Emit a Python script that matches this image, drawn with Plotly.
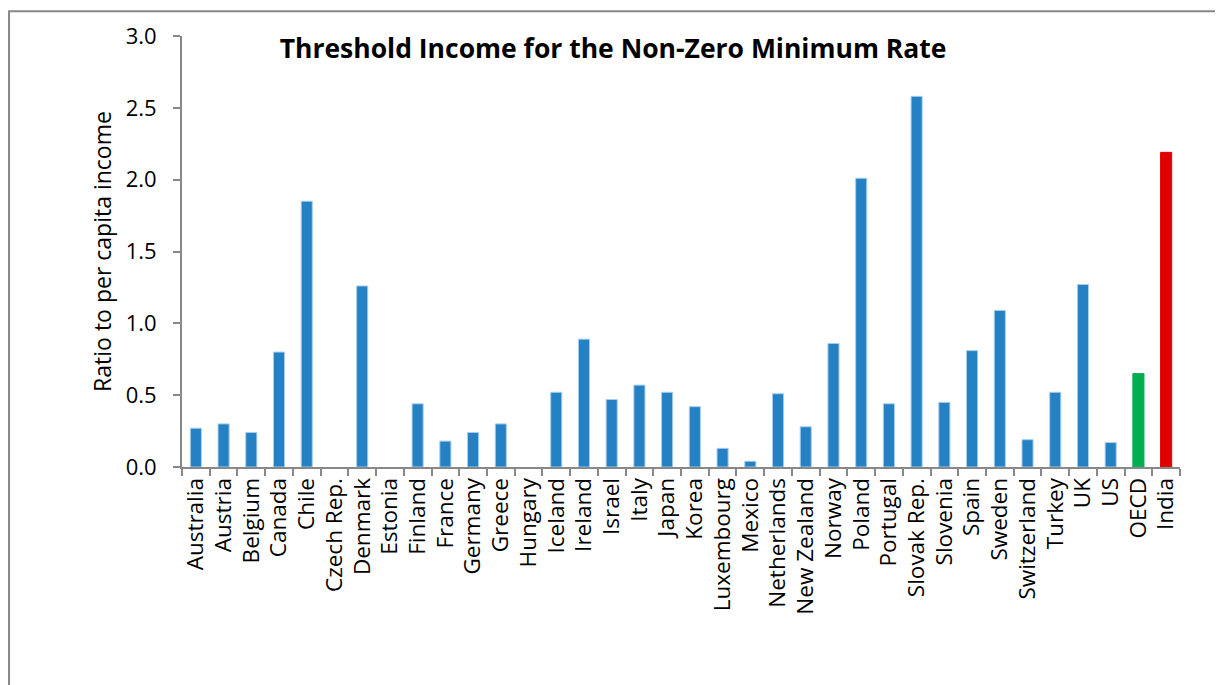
import plotly.graph_objects as go

# %% data

countries = [
    "Australia", "Austria", "Belgium", "Canada", "Chile", "Czech Rep.", "Denmark",
    "Estonia", "Finland", "France", "Germany", "Greece", "Hungary", "Iceland",
    "Ireland", "Israel", "Italy", "Japan", "Korea", "Luxembourg", "Mexico",
    "Netherlands", "New Zealand", "Norway", "Poland", "Portugal", "Slovak Rep.",
    "Slovenia", "Spain", "Sweden", "Switzerland", "Turkey", "UK", "US", "OECD", "India",
]
ratio = [
    0.27, 0.30, 0.24, 0.80, 1.85, 0.0, 1.26,
    0.0, 0.44, 0.18, 0.24, 0.30, 0.0, 0.52,
    0.89, 0.47, 0.57, 0.52, 0.42, 0.13, 0.04,
    0.51, 0.28, 0.86, 2.01, 0.44, 2.58,
    0.45, 0.81, 1.09, 0.19, 0.52, 1.27, 0.17, 0.65, 2.19,
]
y_ticks = [0.0, 0.5, 1.0, 1.5, 2.0, 2.5, 3.0]

# %% plot

colors = ["#2381C4"] * len(countries)
colors[countries.index("OECD")] = "#00B050"
colors[countries.index("India")] = "#E00000"
line_colors = ["#A9CDEB"] * len(countries)
line_colors[countries.index("OECD")] = "#00B050"
line_colors[countries.index("India")] = "#E00000"
line_widths = [1 if v > 0 else 0 for v in ratio]

font = "Open Sans, Lato, sans-serif"

fig = go.Figure(
    go.Bar(
        x=countries,
        y=ratio,
        marker=dict(color=colors, line=dict(color=line_colors, width=line_widths)),
    )
)

# page body adds ~8px, so the figure is a bit smaller than the window
fig.update_layout(
    width=1215,
    height=677,
    margin=dict(l=174, r=43, t=26, b=218),
    plot_bgcolor="white",
    paper_bgcolor="white",
    bargap=0.6,
    showlegend=False,
    font=dict(family=font, size=22, color="black"),
    title=dict(
        text="<b>Threshold Income for the Non-Zero Minimum Rate</b>",
        x=0.498,
        xanchor="center",
        y=0.94,
        yanchor="middle",
        font=dict(family=font, size=26.5, color="black"),
    ),
)

fig.update_xaxes(
    type="category",
    tickmode="array",
    tickvals=countries,
    ticktext=countries,
    showline=True,
    linecolor="#888888",
    linewidth=2,
    ticks="outside",
    tickson="boundaries",
    ticklen=7,
    tickcolor="#888888",
    tickwidth=2,
    tickangle=-90,
    tickfont=dict(size=22.5),
    showgrid=False,
)
fig.update_yaxes(
    range=[0, 3.0],
    tickvals=y_ticks,
    tickformat=".1f",
    showline=True,
    linecolor="#888888",
    linewidth=2,
    ticks="outside",
    ticklen=7,
    tickcolor="#888888",
    tickwidth=2,
    ticklabelstandoff=12,
    showgrid=False,
    zeroline=False,
    tickfont=dict(size=22),
    title=dict(text="Ratio to per capita income", font=dict(size=23), standoff=8),
)

# outer frame of the chart area
fig.add_shape(
    type="rect",
    xref="paper",
    yref="paper",
    x0=-0.1733,
    x1=1.041,
    y0=-0.6,
    y1=1.0577,
    line=dict(color="#888888", width=2),
    layer="below",
)

fig.write_html("out.html")
